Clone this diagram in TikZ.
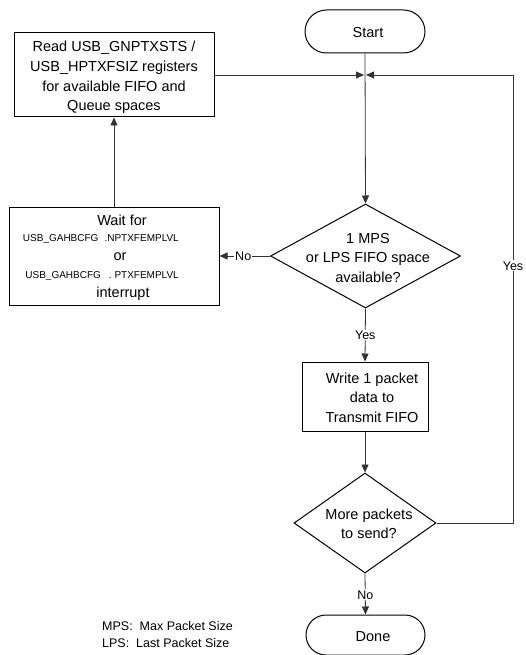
\documentclass[tikz,border=0pt]{standalone}
\usepackage{fontspec}
\setmainfont{Liberation Sans}
\usetikzlibrary{arrows.meta,shapes.geometric}
\begin{document}
\begin{tikzpicture}[x=1pt,y=-1pt,
 box/.style={draw,line width=1pt,rectangle,inner sep=0pt},
 term/.style={draw,line width=1pt,rectangle,inner sep=0pt},
 dia/.style={draw,line width=1pt,diamond,inner sep=0pt},
 txt/.style={font=\fontsize{14.5}{19.6}\selectfont,align=center,inner sep=0pt},
 small/.style={font=\fontsize{10}{11}\selectfont,inner sep=0pt},
 lbl/.style={font=\fontsize{12.5}{14}\selectfont,fill=white,inner sep=1pt},
 conn/.style={line width=0.8pt,draw=black!80},
 arr/.style={conn,-{Triangle[length=8pt,width=7pt]}}]
\useasboundingbox (0,0) rectangle (525,655);

% shapes
\node[term,rounded corners=21.5pt,minimum width=120pt,minimum height=43pt] (start) at (365,31.5) {};
\node[box,minimum width=200pt,minimum height=84pt] (read) at (114,75) {};
\node[box,minimum width=210pt,minimum height=98pt] (wait) at (114,256) {};
\node[dia,minimum width=190pt,minimum height=104pt] (d1) at (365.5,256) {};
\node[box,minimum width=126pt,minimum height=69pt] (write) at (365,396.5) {};
\node[dia,minimum width=142pt,minimum height=100pt] (d2) at (365,523) {};
\node[term,rounded corners=20pt,minimum width=119pt,minimum height=40pt] (done) at (365.5,635) {};

% texts
\node[txt] (starttxt) at (368,33) {Start};
\node[txt] (readtxt) at (114,77.5) {Read USB\_GNPTXSTS /\\USB\_HPTXFSIZ registers\\for available FIFO and\\Queue spaces};
\node[txt] (w1) at (122,220) {Wait for};
\node[small,anchor=east] (w2) at (179,239) {USB\_GAHBCFG\hspace{6pt}.NPTXFEMPLVL};
\node[txt] (w3) at (120,257) {or};
\node[small,anchor=east] (w4) at (179,276) {USB\_GAHBCFG\hspace{8pt}. PTXFEMPLVL};
\node[txt] (w5) at (123,294) {interrupt};
\node[txt] (d1txt) at (368,258) {1 MPS\\or LPS FIFO space\\available?};
\node[txt] (writetxt) at (372,397.5) {Write 1 packet\\data to\\Transmit FIFO};
\node[txt] (d2txt) at (369,524) {More packets\\to send?};
\node[txt] (donetxt) at (373,637) {Done};
\node[font=\fontsize{12.5}{17}\selectfont,align=left,anchor=west,inner sep=0pt] (legend) at (102,634.5) {MPS:\ \ Max Packet Size\\LPS:\ \ Last Packet Size};

% connectors
\coordinate (j) at (365,75);
\coordinate (rc) at (513,523);
\coordinate (rt) at (513,75);
\draw[arr] (start.south) -- (d1.north);
\draw[arr,shorten >=1pt] (read.east) -- (j);
\draw[arr,shorten >=1pt] (d2.east) -- (rc) -- node[lbl,pos=0.574] {Yes} (rt) -- (j);
\draw[arr] (d1.west) -- node[lbl,pos=0.53] {No} (wait.east);
\draw[arr] (d1.south) -- node[lbl,pos=0.5] {Yes} (write.north);
\draw[arr] (write.south) -- (d2.north);
\draw[arr] (d2.south) -- node[lbl,pos=0.52] {No} (done.north);
\draw[arr] (wait.north) -- (read.south);
\end{tikzpicture}
\end{document}
